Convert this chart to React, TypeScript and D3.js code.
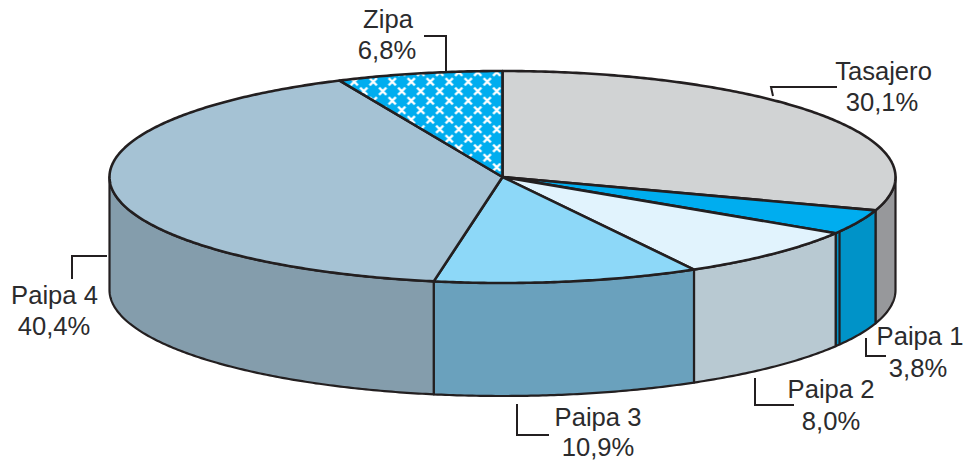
import React from "react";
import * as d3 from "d3";

const categories = ["Tasajero", "Paipa 1", "Paipa 2", "Paipa 3", "Paipa 4", "Zipa"];
const shares = [30.1, 3.8, 8.0, 10.9, 40.4, 6.8];
const shareLabels = ["30,1%", "3,8%", "8,0%", "10,9%", "40,4%", "6,8%"];
const topColors = ["#d1d3d4", "#00adef", "#e1f3fd", "#8dd8f8", "#a5c2d4", "url(#zipaPattern)"];
const wallColors = ["#97989b", "#0093c8", "#b8c9d2", "#6aa1bd", "#849dac", "#849dac"];

const labelCenters = [883.5, 920, 831, 598, 54.5, 388];
const labelValueCenters = [882, 918, 831, 598, 54, 387];
const labelBaselines = [80, 345, 398, 426, 304, 28];
const valueBaselines = [111, 377, 430, 456, 335, 59];
const leaderXs = [[837, 771, 773], [866, 866, 886], [755, 755, 794], [517, 517, 549], [72, 72, 107], [424, 446, 446]];
const leaderYs = [[87, 87, 96], [338, 356, 356], [378, 405, 405], [404, 435, 435], [279, 256, 256], [36, 36, 71]];

const W = 963, H = 460;
const cx = 502.5, cy = 177, rx = 393, ry = 106, depth = 113;
const ink = "#231f20";

const px = (a: number) => cx + rx * Math.sin(a);
const py = (a: number) => cy - ry * Math.cos(a);
const line = d3.line();

function arcPoints(a0: number, a1: number): [number, number][] {
  const n = Math.max(2, Math.ceil(Math.abs(a1 - a0) / 0.01));
  return d3.range(n + 1).map((i) => {
    const a = a0 + ((a1 - a0) * i) / n;
    return [px(a), py(a)] as [number, number];
  });
}

const arcs = d3.pie<number>().sort(null).startAngle(0).endAngle(2 * Math.PI)(shares);

export default function App() {
  const walls = arcs
    .map((d, i) => {
      const a0 = Math.max(d.startAngle, Math.PI / 2);
      const a1 = Math.min(d.endAngle, (3 * Math.PI) / 2);
      if (a1 <= a0) return null;
      const top = arcPoints(a0, a1);
      const bottom = top.map(([x, y]) => [x, y + depth] as [number, number]).reverse();
      return { i, path: line([...top, ...bottom])! + "Z" };
    })
    .filter(Boolean) as { i: number; path: string }[];

  const seamA = arcs[1].endAngle - 0.019;

  return (
    <svg width={W} height={H} viewBox={`0 0 ${W} ${H}`} style={{ position: "absolute", left: 0, top: 0, background: "#fff" }}>
      <defs>
        <pattern id="zipaPattern" x={cx - 1} y={cy - 5} width={19} height={19} patternUnits="userSpaceOnUse">
          <rect width={19} height={19} fill="#00adef" />
          {[[4.75, 4.75], [14.25, 14.25]].map(([x, y], k) => (
            <path key={k} d={`M${x - 3.6},${y - 3.6}L${x + 3.6},${y + 3.6}M${x - 3.6},${y + 3.6}L${x + 3.6},${y - 3.6}`} stroke="#fff" strokeWidth={2.2} fill="none" />
          ))}
        </pattern>
      </defs>

      <g stroke={ink} strokeWidth={2.2} strokeLinejoin="round">
        {walls.map((w) => (
          <path key={w.i} d={w.path} fill={wallColors[w.i]} />
        ))}
        <line x1={px(seamA)} y1={py(seamA)} x2={px(seamA)} y2={py(seamA) + depth} />
        {arcs.map((d, i) => {
          const rim = arcPoints(d.startAngle, d.endAngle);
          return <path key={i} d={line([[cx, cy], ...rim])! + "Z"} fill={topColors[i]} strokeWidth={2.6} />;
        })}
      </g>

      <g fill="none" stroke={ink} strokeWidth={2}>
        {leaderXs.map((xs, i) => (
          <path key={i} d={line(xs.map((x, k) => [x, leaderYs[i][k]] as [number, number]))!} />
        ))}
      </g>

      <g fontFamily="'Liberation Sans', Arial, sans-serif" fontSize={25.6} fill="#2b2b2d" textAnchor="middle">
        {categories.map((c, i) => (
          <g key={c}>
            <text x={labelCenters[i]} y={labelBaselines[i]}>{c}</text>
            <text x={labelValueCenters[i]} y={valueBaselines[i]}>{shareLabels[i]}</text>
          </g>
        ))}
      </g>
    </svg>
  );
}
